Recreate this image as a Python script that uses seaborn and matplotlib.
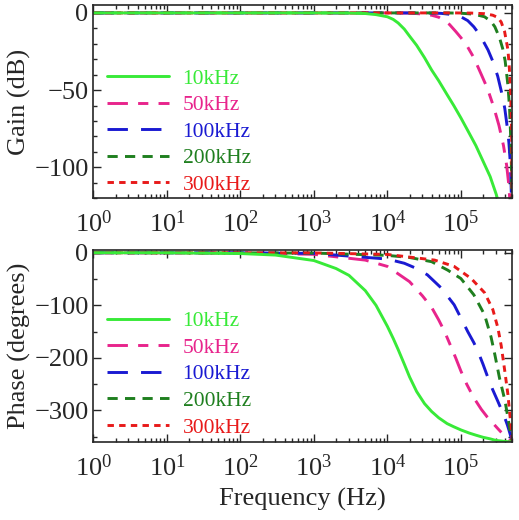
import pandas as pd
import seaborn as sns
import matplotlib.pyplot as plt
from matplotlib.ticker import LogLocator, MultipleLocator, NullFormatter

# cut-off labels
labels = ['10kHz', '50kHz', '100kHz', '200kHz', '300kHz']

# values (frequency in Hz, gain in dB, phase in degrees)
f_10k = [1, 10, 100, 300, 1e3, 2e3, 3e3, 5e3, 7e3, 1e4, 1.2e4, 1.4e4, 1.7e4, 2e4,
         2.5e4, 3.2e4, 4e4, 5e4, 6.5e4, 8e4, 1e5, 1.3e5, 1.6e5, 2e5, 2.5e5, 3e5,
         3.5e5, 4e5, 5e5]
gain_10k = [0, 0, 0, 0, 0, -0.05, -0.1, -0.4, -1.1, -2.5, -4.2, -6.5, -10.5, -15,
            -21, -29, -37, -44, -53, -60, -68, -78, -86, -96, -106, -117, -128,
            -140, -170]
phase_10k = [0, -0.1, -1.5, -4.4, -14.8, -30, -43, -72, -100, -140, -163, -184,
             -212, -236, -264, -287, -302, -314, -325, -331, -337, -343, -347,
             -351, -354, -357, -358, -359, -360]

f_50k = [1, 100, 1e3, 5e3, 1e4, 2e4, 3e4, 4e4, 5e4, 6e4, 7e4, 8.5e4, 1e5, 1.2e5,
         1.5e5, 1.9e5, 2.3e5, 2.8e5, 3.3e5, 3.8e5, 4.2e5, 4.5e5, 4.7e5, 5e5]
gain_50k = [0, 0, 0, 0, 0, -0.1, -0.7, -1.5, -2.8, -5, -7.5, -12, -16, -21, -29,
            -40, -49, -61, -73, -86, -99, -112, -126, -170]
phase_50k = [0, -0.3, -3, -14, -26, -55, -82, -104, -128, -150, -172, -200, -225,
             -250, -276, -298, -313, -326, -337, -346, -352, -356, -358, -360]

f_100k = [1, 100, 1e3, 1e4, 1.7e4, 2.5e4, 3.5e4, 5.4e4, 8.1e4, 1e5, 1.24e5,
          1.5e5, 1.7e5, 2e5, 2.34e5, 2.7e5, 3.17e5, 3.6e5, 3.96e5, 4.3e5, 4.5e5,
          4.7e5, 4.8e5, 4.9e5, 5e5]
gain_100k = [0, 0, 0, 0, 0, 0, -0.05, -0.3, -1.2, -2.5, -5, -9, -12.5, -18, -24,
             -31, -41, -52, -62, -75, -84, -97, -108, -125, -170]
phase_100k = [0, -0.1, -1.2, -12, -20, -30, -42, -67, -99, -124, -150, -171,
              -187, -212, -238, -260, -282, -300, -314, -328, -337, -346, -351,
              -356, -360]

f_200k = [1, 1e3, 1e4, 2e4, 4e4, 6.6e4, 1e5, 1.5e5, 2.1e5, 2.57e5, 2.9e5,
          3.35e5, 3.7e5, 4e5, 4.37e5, 4.6e5, 4.8e5, 4.9e5, 5e5]
gain_200k = [0, 0, 0, 0, 0, 0, -0.2, -0.8, -2.5, -5.5, -9, -16, -23, -31, -47,
             -62, -85, -105, -170]
phase_200k = [0, -0.6, -5, -9, -17, -33, -49, -80, -118, -160, -194, -238, -263,
              -283, -314, -332, -350, -356, -360]

f_300k = [1, 1e3, 1e4, 4.4e4, 8.1e4, 1.38e5, 2.1e5, 2.72e5, 3.19e5, 3.54e5,
          3.93e5, 4.37e5, 4.57e5, 4.75e5, 4.9e5, 4.97e5, 5e5]
gain_300k = [0, 0, 0, 0, 0, -0.1, -0.5, -1.5, -3, -6, -12, -24, -36, -52, -75,
             -115, -170]
phase_300k = [0, -0.3, -3.2, -14, -26, -49, -76, -108, -143, -177, -222, -270,
              -299, -322, -340, -352, -360]

freqs = [f_10k, f_50k, f_100k, f_200k, f_300k]
gains = [gain_10k, gain_50k, gain_100k, gain_200k, gain_300k]
phases = [phase_10k, phase_50k, phase_100k, phase_200k, phase_300k]

colors = ['#38ea38', '#e8248c', '#1a1ad2', '#1f7f1f', '#e81a1a']
dashes = [None, (7, 3.5, 3.5, 3.5), (7, 4.5), (3.5, 2.5), (2.2, 1.8)]

sns.set_style('ticks')
plt.rcParams['font.family'] = ['Liberation Serif', 'DejaVu Serif']
plt.rcParams['mathtext.fontset'] = 'stix'

fig = plt.figure(figsize=(5.19, 5.20), dpi=100)
ax1 = fig.add_axes([0.180, 0.619, 0.807, 0.371])
ax2 = fig.add_axes([0.180, 0.150, 0.807, 0.369])


def draw_panel(ax, values, ylim, major, minor, ylabel, legend_y):
    handles = []
    # dashed curves first, the 10 kHz curve on top
    for i in [1, 2, 3, 4, 0]:
        df = pd.DataFrame({'f': freqs[i], 'v': values[i]})
        sns.lineplot(data=df, x='f', y='v', ax=ax, color=colors[i], lw=2.1,
                     estimator=None, sort=False)
        line = ax.lines[-1]
        if dashes[i] is not None:
            line.set_dashes(dashes[i])
        line.set_label(labels[i])
        handles.append(line)
    handles = [handles[-1]] + handles[:-1]
    ax.set_xscale('log')
    ax.set_xlim(1, 5e5)
    ax.set_ylim(*ylim)
    ax.xaxis.set_major_locator(LogLocator(base=10, numticks=10))
    ax.xaxis.set_minor_locator(LogLocator(base=10, subs=range(2, 10), numticks=20))
    ax.xaxis.set_minor_formatter(NullFormatter())
    ax.yaxis.set_major_locator(MultipleLocator(major))
    ax.yaxis.set_minor_locator(MultipleLocator(minor))
    ax.tick_params(which='both', direction='in', top=True, right=True,
                   labelsize=19, width=1)
    ax.tick_params(axis='x', which='major', pad=9)
    ax.tick_params(which='major', length=6)
    ax.tick_params(which='minor', length=3)
    ax.set_xlabel('')
    ax.set_ylabel(ylabel, fontsize=19, labelpad=2)
    for s in ax.spines.values():
        s.set_linewidth(1.2)
    leg = ax.legend(handles=handles, labels=labels, loc='center left',
                    bbox_to_anchor=(0.033, legend_y), frameon=False,
                    fontsize=15.5, handlelength=2.85, handletextpad=0.65,
                    labelspacing=0.3, borderpad=0, borderaxespad=0,
                    labelcolor='linecolor')
    return leg


draw_panel(ax1, gains, (-120, 5), 50, 10, 'Gain (dB)', 0.345)
draw_panel(ax2, phases, (-360, 5), 100, 50, 'Phase (degrees)', 0.352)
ax2.set_xlabel('Frequency (Hz)', fontsize=19, labelpad=5)

fig.savefig('out.png', dpi=100)
